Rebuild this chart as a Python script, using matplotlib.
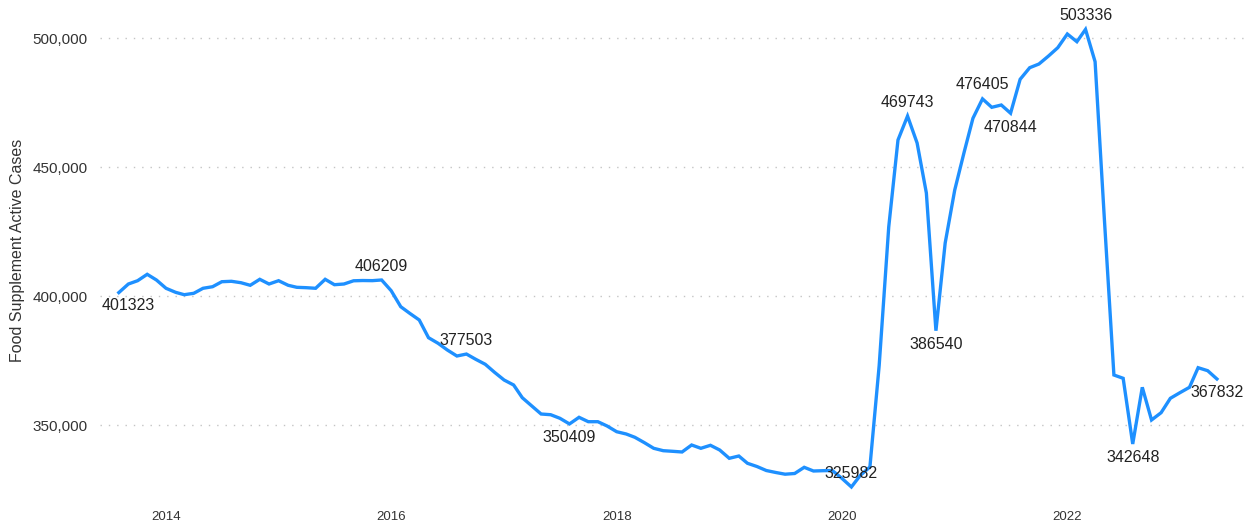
import matplotlib
matplotlib.use("Agg")
import matplotlib.pyplot as plt
import matplotlib.dates as mdates
import matplotlib.ticker as mticker
import pandas as pd

# Monthly active food supplement cases, Aug 2013 - May 2023
start_month = "2013-08-01"
active_cases = [
    401323, 404650, 405930, 408410, 406200, 402990, 401430, 400500, 401050, 402990,
    403600, 405540, 405700, 405150, 404150, 406470, 404650, 405930, 404150, 403370,
    403220, 402990, 406470, 404380, 404650, 405900, 406000, 405950, 406209, 402050,
    395850, 393300, 390700, 383840, 381670, 379070, 376740, 377503, 375470, 373530,
    370430, 367440, 365500, 360580, 357360, 354260, 353990, 352600, 350409, 352980,
    351280, 351280, 349610, 347400, 346510, 345230, 343140, 340970, 340040, 339810,
    339540, 342250, 340970, 342130, 340310, 337090, 337980, 335160, 333900, 332360,
    331590, 330930, 331200, 333600, 332170, 332290, 332360, 329340, 325982, 330500,
    333720, 373000, 426740, 460470, 469743, 459300, 439920, 386540, 420540, 441090,
    456000, 468880, 476405, 473140, 474030, 470844, 483990, 488490, 489920, 493020,
    496240, 501550, 498570, 503336, 490810, 430000, 369380, 368100, 342648, 364610,
    351940, 354770, 360350, 362520, 364610, 372210, 371050, 367832,
]

# Values that get a text label, and whether the text sits above or below the line
labelled_values = [401323, 406209, 377503, 350409, 325982, 469743,
                   386540, 476405, 470844, 503336, 342648, 367832]
label_side = {401323: "below", 406209: "above", 377503: "above", 350409: "below",
              325982: "above", 469743: "above", 386540: "below", 476405: "above",
              470844: "below", 503336: "above", 342648: "below", 367832: "below"}

y_ticks = [350000, 400000, 450000, 500000]
x_tick_years = [2014, 2016, 2018, 2020, 2022]
y_label = "Food Supplement Active Cases"

dates = pd.date_range(start_month, periods=len(active_cases), freq="MS")
series = pd.Series(active_cases, index=dates)

plt.rcParams["font.family"] = ["Liberation Sans", "DejaVu Sans"]

fig = plt.figure(figsize=(12.48, 5.25), dpi=100)
ax = fig.add_axes([100 / 1248, 25 / 525, 1145 / 1248, 500 / 525])

ax.plot(series.index, series.values, color="#1E90FF", linewidth=2.4,
        solid_joinstyle="miter", zorder=3)

for v in labelled_values:
    i = active_cases.index(v)
    dy = 10 if label_side[v] == "above" else -10
    dx = 0
    if i == 0:
        dx, dy = 7, -9
    ax.annotate(str(v), (dates[i], v), xytext=(dx, dy), textcoords="offset points",
                ha="center", va="center", fontsize=11.5, color="#222222", zorder=4)

ax.set_xlim(pd.Timestamp("2013-06-01"), pd.Timestamp("2023-07-31"))
ax.set_ylim(320930, 514730)

ax.set_yticks(y_ticks)
ax.yaxis.set_major_formatter(mticker.FuncFormatter(lambda v, p: f"{int(v):,}"))
ax.set_xticks([pd.Timestamp(f"{y}-01-01") for y in x_tick_years])
ax.xaxis.set_major_formatter(mdates.DateFormatter("%Y"))

ax.tick_params(axis="both", length=0, colors="#333333")
ax.tick_params(axis="y", labelsize=11, pad=9)
ax.tick_params(axis="x", labelsize=9.5, pad=8)

ax.grid(axis="y", linestyle=(0, (1, 5)), color="#c4c4c4", linewidth=1.0)
ax.grid(axis="x", visible=False)
for s in ax.spines.values():
    s.set_visible(False)

ax.set_ylabel(y_label, fontsize=11.5, color="#333333", labelpad=5)

fig.savefig("out.png", dpi=100)
